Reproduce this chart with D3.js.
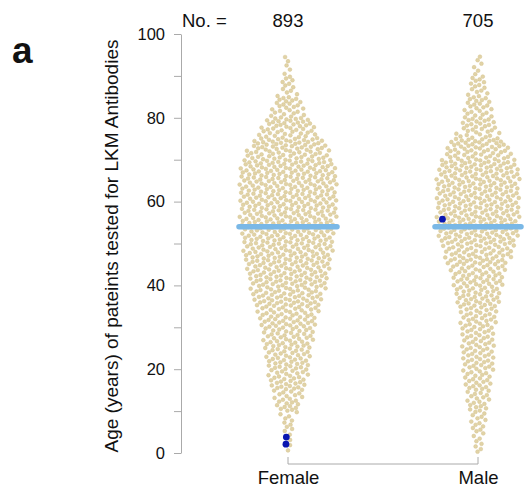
<!DOCTYPE html>
<html>
<head>
<meta charset="utf-8">
<script src="https://cdn.jsdelivr.net/npm/d3@7"></script>
<style>
  body { margin: 0; background: #fff; }
  svg text { font-family: "Liberation Sans", Arial, Helvetica, sans-serif; fill: #111; }
</style>
</head>
<body>
<svg id="chart" width="524" height="492"></svg>
<script>
// groups and counts shown above each swarm
const groups = ["Female", "Male"];
const groupCounts = [893, 705];

// age bins (5-year wide), lower edges
const binStarts = [0, 5, 10, 15, 20, 25, 30, 35, 40, 45, 50, 55, 60, 65, 70, 75, 80, 85, 90];
// number of patients per age bin
const femaleBinCounts = [4, 10, 23, 33, 38, 43, 50, 61, 69, 76, 79, 83, 83, 83, 69, 46, 26, 12, 5];
const maleBinCounts   = [8, 13, 19, 24, 28, 28, 31, 39, 45, 58, 70, 71, 71, 70, 55, 31, 23, 15, 6];

// median age per group
const medians = [54, 54];

// highlighted (positive) patients
const highlightGroup = ["Female", "Female", "Male"];
const highlightAge   = [2.1, 3.8, 55.8];

const yTicks = [0, 10, 20, 30, 40, 50, 60, 70, 80, 90, 100];
const yLabels = [0, 20, 40, 60, 80, 100];

const svg = d3.select("#chart");

const y = d3.scaleLinear().domain([0, 100]).range([453, 34]);
const x = d3.scalePoint().domain(groups).range([288, 478]);
// swarm half-width per local count
const spread = d3.scaleLinear().domain([0, 83]).range([0, 49]);

// y axis
const yAxis = d3.axisLeft(y)
  .tickValues(yTicks)
  .tickSize(7)
  .tickSizeOuter(0)
  .tickFormat(d => yLabels.includes(d) ? d : "");
const gy = svg.append("g").attr("transform", "translate(181,0)").call(yAxis);
gy.select(".domain").attr("stroke", "#aaa");
gy.selectAll(".tick line").attr("stroke", "#aaa");
gy.selectAll(".tick text").attr("x", -16).style("font-size", "16.5px").attr("fill", "#111");

// x axis bracket
const gx = svg.append("g").attr("transform", "translate(0,464)")
  .call(d3.axisBottom(x).tickSize(0).tickSizeOuter(0).tickPadding(7));
gx.select(".domain").attr("stroke", "#aaa")
  .attr("d", `M${x("Female")},-7V0H${x("Male")}V-7`).attr("fill", "none");
gx.selectAll(".tick text").style("font-size", "18.5px").attr("fill", "#111");

// y label
svg.append("text")
  .attr("transform", "translate(118,246) rotate(-90)")
  .attr("text-anchor", "middle")
  .style("font-size", "19px")
  .text("Age (years) of pateints tested for LKM Antibodies");

// panel letter
svg.append("text").attr("x", 12).attr("y", 63)
  .style("font-size", "37px").style("font-weight", "bold").text("a");

// counts header
svg.append("text").attr("x", 182).attr("y", 27).style("font-size", "18.5px").text("No. =");
svg.selectAll(".count").data(groups).join("text")
  .attr("class", "count")
  .attr("x", d => x(d)).attr("y", 27)
  .attr("text-anchor", "middle")
  .style("font-size", "18.5px")
  .text((d, i) => groupCounts[i]);

// van der Corput sequence for quasirandom offsets
function vdc(n) {
  let v = 0, denom = 1;
  while (n > 0) { denom *= 2; v += (n % 2) / denom; n = Math.floor(n / 2); }
  return v;
}

const binCenters = binStarts.map(b => b + 2.5);

const nodes = [];
[femaleBinCounts, maleBinCounts].forEach((counts, gi) => {
  const g = groups[gi];
  const local = d3.scaleLinear().domain(binCenters).range(counts).clamp(true);
  const list = [];
  counts.forEach((n, bi) => {
    for (let k = 0; k < n; k++) {
      list.push({ group: g, age: binStarts[bi] + (k + 0.5) * 5 / n, hi: false });
    }
  });
  highlightAge.forEach((a, i) => {
    if (highlightGroup[i] === g) list.push({ group: g, age: a, hi: true });
  });
  list.sort((a, b) => a.age - b.age);
  list.forEach((d, r) => {
    d.tx = x(g) + (1 - 2 * vdc(r + 1)) * spread(local(d.age));
    d.x = d.tx;
    d.fy = y(d.age);
    nodes.push(d);
  });
});

// relaxation so that points spread unevenly, like a swarm
const sim = d3.forceSimulation(nodes)
  .force("x", d3.forceX(d => d.tx).strength(0.15))
  .force("collide", d3.forceCollide(2.1).iterations(2))
  .stop();
for (let i = 0; i < 200; i++) sim.tick();

const pts = nodes.filter(d => !d.hi);
const his = nodes.filter(d => d.hi);

svg.append("g").selectAll("circle").data(pts).join("circle")
  .attr("cx", d => d.x).attr("cy", d => d.fy)
  .attr("r", 1.9)
  .attr("fill", "#e1d3a6")
  .attr("stroke", "#d4c390")
  .attr("stroke-width", 0.5);

// median lines
const medHalf = [49, 43];
svg.append("g").selectAll("line").data(groups).join("line")
  .attr("x1", (d, i) => x(d) - medHalf[i])
  .attr("x2", (d, i) => x(d) + medHalf[i])
  .attr("y1", (d, i) => y(medians[i]))
  .attr("y2", (d, i) => y(medians[i]))
  .attr("stroke", "#7ab8e6")
  .attr("stroke-width", 5.5)
  .attr("stroke-linecap", "round");

svg.append("g").selectAll("circle").data(his).join("circle")
  .attr("cx", d => d.x).attr("cy", d => d.fy)
  .attr("r", 3.4)
  .attr("fill", "#0a16b0");
</script>
</body>
</html>
